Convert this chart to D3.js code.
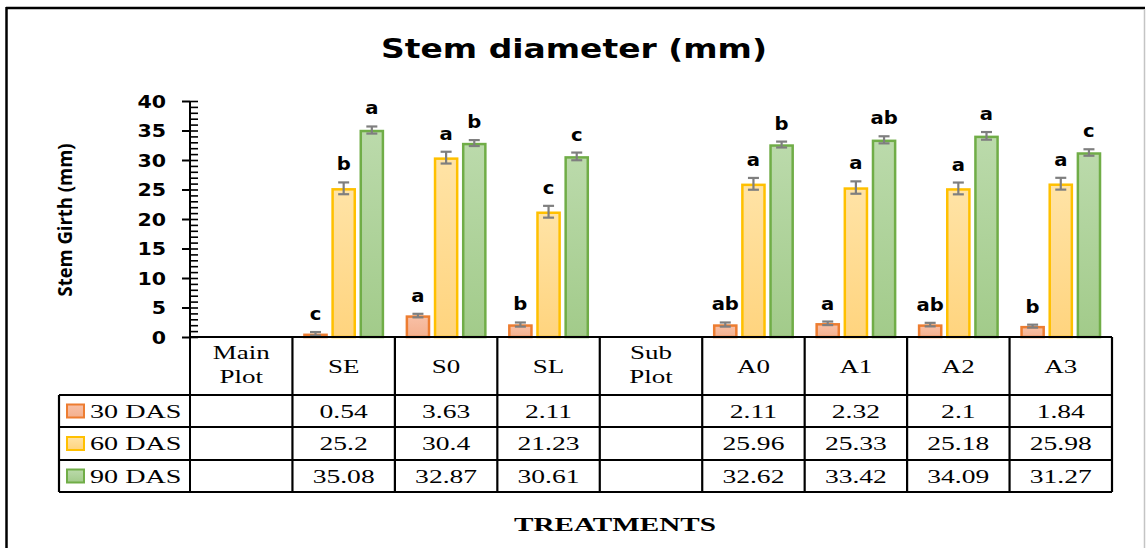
<!DOCTYPE html>
<html><head><meta charset="utf-8">
<script src="https://cdn.jsdelivr.net/npm/d3@7"></script>
<style>
html,body{margin:0;padding:0;background:#fff;}
svg{display:block;}
</style></head>
<body>
<svg id="chart" width="1146" height="548"></svg>
<script>
// ---------- data ----------
const categories = ["Main Plot","SE","S0","SL","Sub Plot","A0","A1","A2","A3"];
const seriesNames = ["30 DAS","60 DAS","90 DAS"];
const das30 = [null,0.54,3.63,2.11,null,2.11,2.32,2.1,1.84];
const das60 = [null,25.2,30.4,21.23,null,25.96,25.33,25.18,25.98];
const das90 = [null,35.08,32.87,30.61,null,32.62,33.42,34.09,31.27];
const err30 = [null,0.3,0.3,0.35,null,0.35,0.3,0.3,0.25];
const err60 = [null,1.0,1.0,1.0,null,1.0,1.05,1.0,1.0];
const err90 = [null,0.6,0.5,0.65,null,0.5,0.6,0.65,0.55];
const letters30 = ["","c","a","b","","ab","a","ab","b"];
const letters60 = ["","b","a","c","","a","a","a","a"];
const letters90 = ["","a","b","c","","b","ab","a","c"];
const yTicks = [0,5,10,15,20,25,30,35,40];

const seriesVals = [das30,das60,das90];
const seriesErr = [err30,err60,err90];
const seriesLet = [letters30,letters60,letters90];
const strokes = ["#ED7D31","#FFC000","#70AD47"];
const gradTop = ["#F8C0A6","#FFE3A6","#BBDAAB"];
const gradBot = ["#F4B08E","#FFD47E","#A2CB8A"];

const svg = d3.select("#chart");
const W = 1146, H = 548;

function stretch(sel, k){
  sel.each(function(){
    const len = this.getComputedTextLength();
    d3.select(this).attr("textLength", len*k).attr("lengthAdjust","spacingAndGlyphs");
  });
  return sel;
}

// gradients
const defs = svg.append("defs");
seriesNames.forEach((s,i)=>{
  const g = defs.append("linearGradient").attr("id","g"+i).attr("x1",0).attr("y1",0).attr("x2",0).attr("y2",1);
  g.append("stop").attr("offset","0%").attr("stop-color",gradTop[i]);
  g.append("stop").attr("offset","100%").attr("stop-color",gradBot[i]);
});

// outer frame
svg.append("line").attr("x1",6).attr("x2",1145).attr("y1",8).attr("y2",8).attr("stroke","#000").attr("stroke-width",2.5);
svg.append("line").attr("x1",6.5).attr("x2",6.5).attr("y1",7).attr("y2",H).attr("stroke","#000").attr("stroke-width",2.5);
svg.append("line").attr("x1",1144.5).attr("x2",1144.5).attr("y1",9).attr("y2",H).attr("stroke","#c4c4c4").attr("stroke-width",1.5);

// title
stretch(svg.append("text").attr("x",574).attr("y",58).attr("text-anchor","middle")
  .attr("font-family","DejaVu Sans").attr("font-weight","bold").attr("font-size",27)
  .attr("fill","#000").text("Stem diameter (mm)"),1.22);

// scales
const x = d3.scaleBand().domain(categories).range([190,1112]).padding(0);
const xi = d3.scaleBand().domain(seriesNames).range([0,x.bandwidth()]).paddingInner(0.143).paddingOuter(0.39);
const y = d3.scaleLinear().domain([0,40]).range([337,101]);

// y axis
const yAxis = svg.append("g").attr("transform","translate(190,0)")
  .call(d3.axisLeft(y).tickValues(yTicks).tickSize(8).tickPadding(16).tickFormat(d3.format("d")));
yAxis.select(".domain").remove();
yAxis.selectAll(".tick line").attr("stroke","#000").attr("stroke-width",2);
yAxis.selectAll(".tick text").attr("font-family","DejaVu Sans").attr("font-weight","bold")
  .attr("font-size",18).attr("fill","#000").attr("dy","0.36em");
stretch(yAxis.selectAll(".tick text"),1.14);
const minor = svg.append("g").attr("transform","translate(190,0)")
  .call(d3.axisRight(y).ticks(40).tickSize(8).tickFormat(""));
minor.select(".domain").remove();
minor.selectAll(".tick line").attr("stroke","#000").attr("stroke-width",1.6);
svg.append("line").attr("x1",190).attr("x2",190).attr("y1",y(40)).attr("y2",492).attr("stroke","#000").attr("stroke-width",2);

// y label
svg.append("text").attr("transform","translate(72,220) rotate(-90)").attr("text-anchor","middle")
  .attr("font-family","Open Sans").attr("font-weight",700).attr("font-size",19).attr("fill","#000")
  .attr("textLength",153).attr("lengthAdjust","spacingAndGlyphs")
  .text("Stem Girth (mm)");

// bars
const barData = [];
categories.forEach((c,ci)=>{
  seriesNames.forEach((s,si)=>{
    const v = seriesVals[si][ci];
    if(v!==null) barData.push({c,s,si,v,e:seriesErr[si][ci],l:seriesLet[si][ci]});
  });
});
const bars = svg.append("g");
bars.selectAll("rect").data(barData).join("rect")
  .attr("x",d=>x(d.c)+xi(d.s)+1).attr("width",xi.bandwidth()-2)
  .attr("y",d=>y(d.v)+1).attr("height",d=>Math.max(0,y(0)-y(d.v)-1))
  .attr("fill",d=>"url(#g"+d.si+")").attr("stroke",d=>strokes[d.si]).attr("stroke-width",2.5);

// error bars
const eb = svg.append("g").attr("stroke","#7F7F7F").attr("stroke-width",2.2);
barData.forEach(d=>{
  const cx = x(d.c)+xi(d.s)+xi.bandwidth()/2;
  eb.append("line").attr("x1",cx).attr("x2",cx).attr("y1",y(d.v+d.e)).attr("y2",y(d.v-d.e));
  eb.append("line").attr("x1",cx-5.5).attr("x2",cx+5.5).attr("y1",y(d.v+d.e)).attr("y2",y(d.v+d.e));
  eb.append("line").attr("x1",cx-5.5).attr("x2",cx+5.5).attr("y1",y(d.v-d.e)).attr("y2",y(d.v-d.e));
});

// significance letters
stretch(svg.append("g").selectAll("text").data(barData).join("text")
  .attr("x",d=>x(d.c)+xi(d.s)+xi.bandwidth()/2).attr("y",d=>y(d.v+d.e)-12)
  .attr("text-anchor","middle").attr("font-family","DejaVu Sans").attr("font-weight","bold")
  .attr("font-size",17.5).attr("fill","#000").text(d=>d.l),1.12);

// ---------- data table ----------
const rowY = [337,395,427,460,492];
const tbl = svg.append("g").attr("stroke","#000").attr("stroke-width",2.2);
tbl.append("line").attr("x1",190).attr("x2",1112).attr("y1",rowY[0]).attr("y2",rowY[0]);
rowY.slice(1).forEach(ry=>tbl.append("line").attr("x1",59).attr("x2",1112).attr("y1",ry).attr("y2",ry));
tbl.append("line").attr("x1",59).attr("x2",59).attr("y1",rowY[1]).attr("y2",rowY[4]);
categories.forEach(c=>{
  tbl.append("line").attr("x1",x(c)+x.bandwidth()).attr("x2",x(c)+x.bandwidth()).attr("y1",rowY[0]).attr("y2",rowY[4]);
});

const serifK = 1.42;
// header
categories.forEach(c=>{
  const cx = x(c)+x.bandwidth()/2;
  const parts = c.split(" ");
  if(parts.length>1 && (c==="Main Plot"||c==="Sub Plot")){
    parts.forEach((p,pi)=>{
      stretch(svg.append("text").attr("x",cx).attr("y",359+pi*24).attr("text-anchor","middle")
        .attr("font-family","Liberation Serif").attr("font-size",19).attr("fill","#000").text(p),serifK);
    });
  } else {
    stretch(svg.append("text").attr("x",cx).attr("y",373).attr("text-anchor","middle")
      .attr("font-family","Liberation Serif").attr("font-size",19).attr("fill","#000").text(c),serifK);
  }
});
// rows
seriesNames.forEach((s,si)=>{
  const ty = (rowY[si+1]+rowY[si+2])/2 + 6.5;
  svg.append("rect").attr("x",67).attr("y",(rowY[si+1]+rowY[si+2])/2-6.5).attr("width",17).attr("height",13)
    .attr("fill","url(#g"+si+")").attr("stroke",strokes[si]).attr("stroke-width",2);
  stretch(svg.append("text").attr("x",90).attr("y",ty)
    .attr("font-family","Liberation Serif").attr("font-size",19).attr("fill","#000").text(s),1.48);
  categories.forEach((c,ci)=>{
    const v = seriesVals[si][ci];
    if(v===null) return;
    stretch(svg.append("text").attr("x",x(c)+x.bandwidth()/2).attr("y",ty).attr("text-anchor","middle")
      .attr("font-family","Liberation Serif").attr("font-size",19).attr("fill","#000").text(String(v)),1.45);
  });
});

// x title
svg.append("text").attr("x",615).attr("y",531).attr("text-anchor","middle")
  .attr("font-family","Liberation Serif").attr("font-weight","bold").attr("font-size",18).attr("fill","#000")
  .attr("textLength",202).attr("lengthAdjust","spacingAndGlyphs").text("TREATMENTS");
</script>
</body></html>
